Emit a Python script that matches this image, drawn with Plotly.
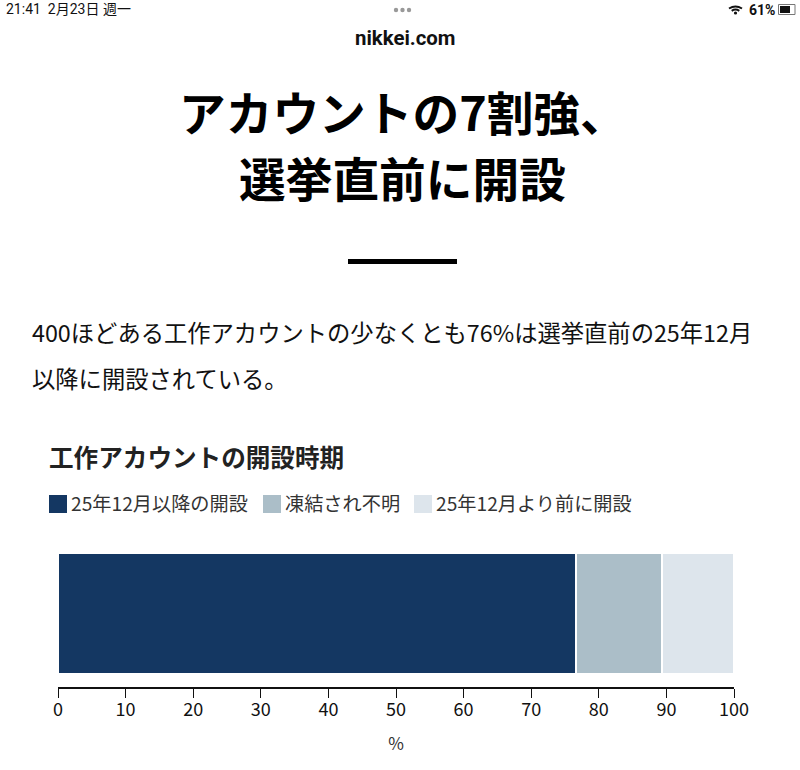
import plotly.graph_objects as go

series_names = ["25年12月以降の開設", "凍結され不明", "25年12月より前に開設"]
series_values = [76.7, 12.7, 10.6]
series_colors = ["#143762", "#abbec8", "#dde5ec"]
tick_values = list(range(0, 101, 10))
F = "Noto Sans CJK JP"

L, T, R, B = 58, 540, 734, 687
PW, PH = R - L, B - T

fig = go.Figure()
for n, v, c in zip(series_names, series_values, series_colors):
    fig.add_trace(go.Bar(x=[v], y=["工作アカウント"], name=n, orientation="h",
                         marker=dict(color=c, line=dict(color="white", width=2)),
                         width=0.82, showlegend=False))

fig.update_layout(
    barmode="stack", width=800, height=770, paper_bgcolor="white", plot_bgcolor="white",
    margin=dict(l=L, r=800 - R, t=T, b=770 - B, pad=0), font=dict(family=F, color="#111"),
    xaxis=dict(range=[0, 100], tickvals=tick_values, ticks="outside", ticklen=9, tickcolor="#111",
               tickwidth=1, showline=True, linecolor="#111", linewidth=1.5, showgrid=False, zeroline=False,
               tickfont=dict(size=18, color="#111"), ticklabelstandoff=-3,
               title=dict(text="%", font=dict(size=17, color="#333"), standoff=18)),
    yaxis=dict(visible=False),
)

def px(x):
    return (x - L) / PW

def py(y):
    return (B - y) / PH

def t(x, y, s, size, color="#111", anchor="left", bold=False, font=F):
    if bold:
        s = "<b>" + s + "</b>"
    fig.add_annotation(xref="paper", yref="paper", x=px(x), y=py(y), text=s, showarrow=False,
                       xanchor=anchor, yanchor="middle", borderpad=0, borderwidth=0,
                       font=dict(size=size, color=color, family=font))

def rect(x0, y0, x1, y1, c, line=None):
    fig.add_shape(type="rect", xref="paper", yref="paper",
                  x0=px(x0), x1=px(x1), y0=py(y0), y1=py(y1),
                  fillcolor=c, line=dict(width=0) if line is None else dict(color=line, width=1))

def dot(x, y, r, c):
    fig.add_shape(type="circle", xref="paper", yref="paper",
                  x0=px(x - r), x1=px(x + r), y0=py(y - r), y1=py(y + r),
                  fillcolor=c, line=dict(width=0))

def arc(cx, top, half, drop):
    fig.add_shape(type="path", xref="paper", yref="paper", line=dict(color="#111", width=2),
                  path="M %f %f Q %f %f %f %f" % (px(cx - half), py(top + drop), px(cx), py(top - drop),
                                                  px(cx + half), py(top + drop)))

t(6, 9, "21:41  2月23日 週一", 14, font="Roboto, " + F)
t(775, 10, "61%", 14, anchor="right", bold=True, font="Roboto")
t(405, 38, "nikkei.com", 20.4, anchor="center", bold=True, font="Roboto")
t(402.5, 110, "アカウントの7割強、", 46.7, "#000", "center", True)
t(402.5, 176.5, "選挙直前に開設", 46.7, "#000", "center", True)
t(32, 332, "400ほどある工作アカウントの少なくとも76%は選挙直前の25年12月", 23.3)
t(32, 378, "以降に開設されている。", 23.3)
t(49, 456, "工作アカウントの開設時期", 24.6, "#222", bold=True)
t(71, 503, series_names[0], 19.2, "#333")
t(285, 503, series_names[1], 19.2, "#333")
t(436, 503, series_names[2], 19.2, "#333")

rect(49, 495, 67, 513, series_colors[0])
rect(263, 495, 281, 513, series_colors[1])
rect(414, 495, 432, 513, series_colors[2])
rect(348, 259, 457, 264, "#000")

# status bar details
rect(778.5, 4.5, 795, 14.5, "white", "#777")
rect(780, 6, 790, 13, "#111")
for i in range(3):
    dot(396 + i * 6.5, 10, 2.2, "#999")
arc(735.5, 6.5, 6.5, 2)
arc(735.5, 9.5, 3.8, 1.3)
dot(735.5, 13, 1.6, "#111")

fig.write_html("out.html", config={"displayModeBar": False},
               post_script="document.body.style.margin='0';document.body.style.overflow='hidden';")
